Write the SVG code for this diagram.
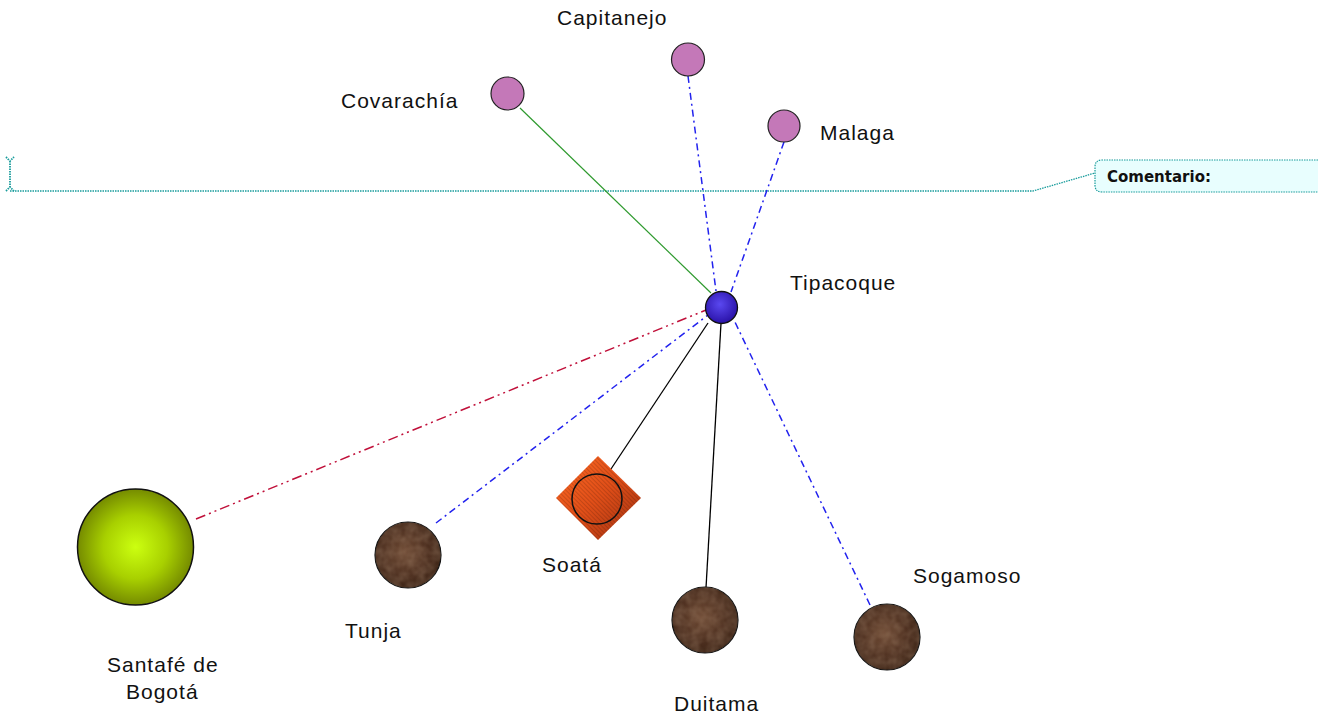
<svg xmlns="http://www.w3.org/2000/svg" width="1329" height="719" viewBox="0 0 1329 719">
<style>
.lbl{font-family:"Liberation Sans",Arial,sans-serif;font-size:21px;fill:#111;letter-spacing:1px}
.blue{stroke:#2222ee;stroke-width:1.5;fill:none;stroke-dasharray:7 4 2 4}
.red{stroke:#c0103a;stroke-width:1.5;fill:none;stroke-dasharray:10 4 2 4 2 4}
.blk{stroke:#000;stroke-width:1.3;fill:none}
.grn{stroke:#2e9a2e;stroke-width:1.2;fill:none}
.pink{fill:#c478b8;stroke:#222;stroke-width:1.2}
.brown{fill:url(#gBrown);stroke:#111;stroke-width:1.2}
.cm{stroke:#199c9c;stroke-width:1.3;fill:none;stroke-dasharray:1.5 1}
</style>
<defs>
<radialGradient id="gGreen" cx="0.5" cy="0.5" r="0.55">
<stop offset="0" stop-color="#ccff10"/><stop offset="0.5" stop-color="#a8d000"/><stop offset="1" stop-color="#6a7c00"/>
</radialGradient>
<radialGradient id="gBlue" cx="0.45" cy="0.4" r="0.6">
<stop offset="0" stop-color="#5a48f0"/><stop offset="1" stop-color="#2a12a8"/>
</radialGradient>
<radialGradient id="gBrown" cx="0.45" cy="0.45" r="0.6">
<stop offset="0" stop-color="#6e4a34"/><stop offset="0.6" stop-color="#4e3020"/><stop offset="1" stop-color="#3a2214"/>
</radialGradient>
<linearGradient id="gOrange" x1="0" y1="0" x2="1" y2="1">
<stop offset="0" stop-color="#ff6a24"/><stop offset="0.5" stop-color="#e04e18"/><stop offset="1" stop-color="#9e3010"/>
</linearGradient>
<pattern id="hatch" width="3" height="3" patternUnits="userSpaceOnUse" patternTransform="rotate(45)">
<rect width="3" height="1" fill="#000" fill-opacity="0.15"/>
</pattern>
<filter id="mottle" x="0" y="0" width="1" height="1">
<feTurbulence type="fractalNoise" baseFrequency="0.12" numOctaves="2" seed="3"/>
<feColorMatrix values="0 0 0 0 0.4  0 0 0 0 0.26  0 0 0 0 0.17  0 0 0 0.5 -0.1"/>
<feComposite in2="SourceGraphic" operator="in"/>
</filter>
</defs>
<rect width="1329" height="719" fill="#fff"/>

<g id="comment">
<path class="cm" d="M6,157 L10,161 L14,157 M10,161 L10,187 M6,191 L10,187 L14,191" style="stroke-width:1.8"/>
<path class="cm" d="M10,191 L1033,191 L1095,173"/>
<path d="M1318,160 L1102,160 Q1095,160 1095,167 L1095,185 Q1095,192 1102,192 L1318,192" fill="#e8fefe" stroke="#199c9c" stroke-width="1.2" stroke-dasharray="1.5 1"/>
<text x="1107" y="182" style="font-family:'DejaVu Sans',Verdana,sans-serif;font-size:15px;font-weight:bold;fill:#111">Comentario:</text>
</g>

<g id="connectors">
<line class="grn" x1="520" y1="108" x2="711" y2="293"/>
<line class="blue" x1="688" y1="76" x2="716" y2="291"/>
<line class="blue" x1="784" y1="142" x2="731" y2="292"/>
<line class="red" x1="196" y1="519" x2="706" y2="310"/>
<line class="blue" x1="436" y1="523" x2="708" y2="315"/>
<line class="blk" x1="607" y1="475" x2="708" y2="323"/>
<line class="blk" x1="706" y1="588" x2="721" y2="323"/>
<line class="blue" x1="870" y1="605" x2="734" y2="320"/>
</g>

<g id="capitanejo"><circle class="pink" cx="688" cy="59.5" r="16.5"/><text class="lbl" x="557" y="25">Capitanejo</text></g>
<g id="covarachia"><circle class="pink" cx="507.5" cy="93.5" r="16.5"/><text class="lbl" x="341" y="108" style="letter-spacing:1px">Covarachía</text></g>
<g id="malaga"><circle class="pink" cx="784" cy="126" r="16"/><text class="lbl" x="820" y="140">Malaga</text></g>
<g id="tipacoque"><circle cx="721.5" cy="307.5" r="16" fill="url(#gBlue)" stroke="#111" stroke-width="1.3"/><text class="lbl" x="790" y="290">Tipacoque</text></g>
<g id="santafe"><circle cx="135.5" cy="547" r="58" fill="url(#gGreen)" stroke="#111" stroke-width="1.5"/><text class="lbl" x="107" y="672">Santafé de</text><text class="lbl" x="126" y="699">Bogotá</text></g>
<g id="tunja"><circle class="brown" cx="408" cy="555" r="33"/><circle cx="408" cy="555" r="33" fill="#000" filter="url(#mottle)"/><text class="lbl" x="345" y="638">Tunja</text></g>
<g id="soata">
<polygon points="598,456 641,498 598,540 556,498" fill="url(#gOrange)"/>
<polygon points="598,456 641,498 598,540 556,498" fill="url(#hatch)"/>
<circle cx="597" cy="499" r="25" fill="none" stroke="#111" stroke-width="1.5"/>
<text class="lbl" x="542" y="572">Soatá</text>
</g>
<g id="duitama"><circle class="brown" cx="705" cy="620" r="33"/><circle cx="705" cy="620" r="33" fill="#000" filter="url(#mottle)"/><text class="lbl" x="674" y="711">Duitama</text></g>
<g id="sogamoso"><circle class="brown" cx="887" cy="637" r="33"/><circle cx="887" cy="637" r="33" fill="#000" filter="url(#mottle)"/><text class="lbl" x="913" y="583">Sogamoso</text></g>
</svg>
